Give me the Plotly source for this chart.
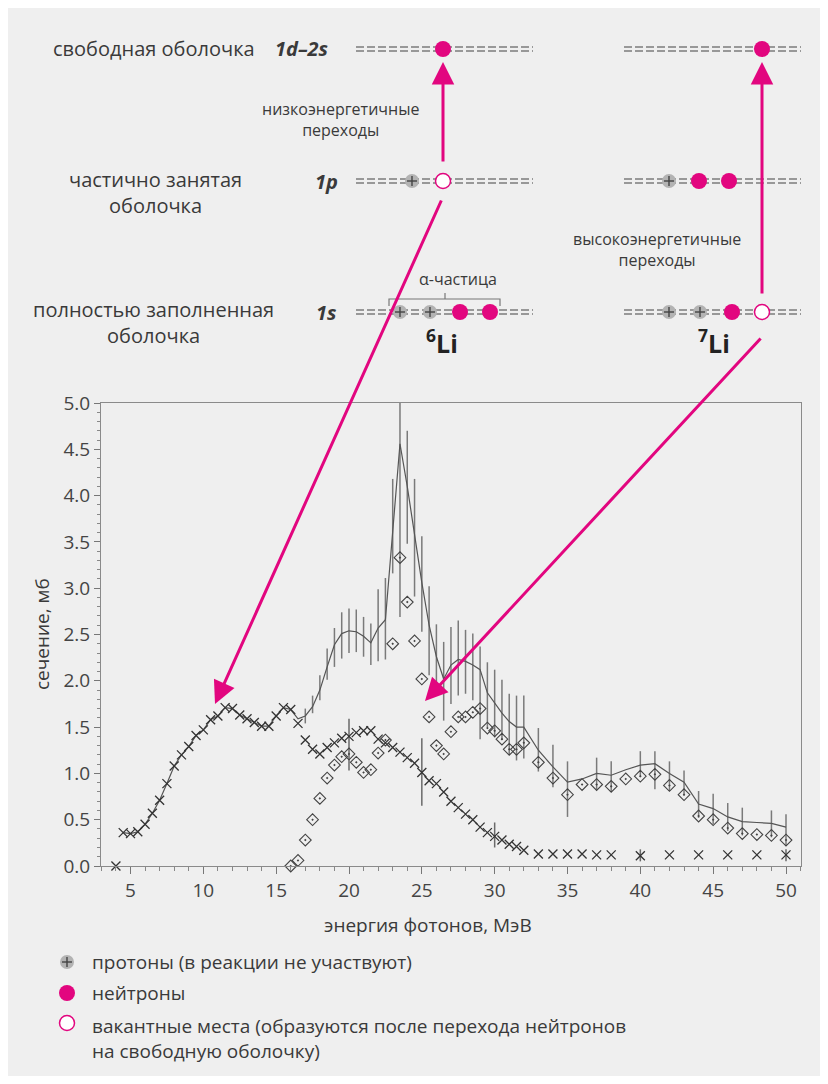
import plotly.graph_objects as go

# ---------------- data ----------------
# crosses joined by the thin line (low-energy part)
cross1_x = [4.0, 4.5, 5.0, 5.5, 6.0, 6.5, 7.0, 7.5, 8.0, 8.5, 9.0, 9.5, 10.0, 10.5,
            11.0, 11.5, 12.0, 12.5, 13.0, 13.5, 14.0, 14.5, 15.0, 15.5, 16.0]
cross1_y = [0.0, 0.36, 0.35, 0.37, 0.45, 0.57, 0.71, 0.89, 1.08, 1.20, 1.29, 1.41, 1.47, 1.58,
            1.62, 1.71, 1.70, 1.63, 1.59, 1.55, 1.51, 1.51, 1.62, 1.71, 1.69]

# thin continuous curve
curve_x = [4.5, 5.0, 5.5, 6.0, 6.5, 7.0, 7.5, 8.0, 8.5, 9.0, 9.5, 10.0, 10.5, 11.0, 11.5, 12.0,
           12.5, 13.0, 13.5, 14.0, 14.5, 15.0, 15.5, 16.0, 16.5, 17.0, 17.5, 18.0, 18.5, 19.0,
           19.5, 20.0, 20.5, 21.0, 21.5, 22.0, 22.5, 23.0, 23.5, 24.0, 24.5, 25.0, 25.5, 26.0,
           26.5, 27.0, 27.5, 28.0, 28.5, 29.0, 29.5, 30.0, 30.5, 31.0, 31.5, 32.0,
           33, 34, 35, 36, 37, 38, 39, 40, 41, 42, 43, 44, 45, 46, 47, 48, 49, 50]
curve_y = [0.36, 0.35, 0.37, 0.45, 0.57, 0.71, 0.89, 1.08, 1.20, 1.29, 1.41, 1.47, 1.58, 1.62,
           1.71, 1.70, 1.63, 1.59, 1.55, 1.51, 1.51, 1.62, 1.71, 1.69, 1.59, 1.62, 1.72, 1.90,
           2.15, 2.39, 2.51, 2.54, 2.53, 2.48, 2.41, 2.57, 2.66, 3.62, 4.56, 4.10, 3.56, 3.06,
           2.60, 2.26, 2.02, 2.17, 2.23, 2.21, 2.17, 2.12, 1.87, 1.76, 1.65, 1.56, 1.50, 1.50,
           1.25, 1.07, 0.905, 0.94, 1.00, 0.98, 1.04, 1.09, 1.105, 1.00, 0.905, 0.67, 0.62,
           0.53, 0.48, 0.47, 0.46, 0.42]

# error bars of the curve (lower / upper ends)
bar_x = [17.0, 17.5, 18.0, 18.5, 19.0, 19.5, 20.0, 20.5, 21.0, 21.5, 22.0, 22.5, 23.0, 23.5,
         24.0, 24.5, 25.0, 25.5, 26.0, 26.5, 27.0, 27.5, 28.0, 28.5, 29.0, 29.5, 30.0, 30.5,
         31.0, 31.5, 32.0, 33, 34, 35, 37, 38, 40, 41, 42, 43, 44, 45, 46, 47, 49, 50]
bar_lo = [1.54, 1.65, 1.79, 2.01, 2.15, 2.24, 2.30, 2.31, 2.26, 2.17, 2.21, 2.23, 3.16, 2.69,
          3.48, 2.91, 2.53, 2.06, 1.89, 1.57, 1.75, 1.84, 1.86, 1.79, 1.37, 1.50, 1.39, 1.36,
          1.21, 1.14, 1.16, 1.02, 0.85, 0.53, 0.83, 0.81, 0.96, 0.83, 0.81, 0.76, 0.52, 0.45,
          0.38, 0.33, 0.31, 0.22]
bar_hi = [1.70, 1.84, 2.06, 2.35, 2.57, 2.74, 2.78, 2.77, 2.69, 2.62, 2.99, 3.11, 4.18, 6.40,
          4.70, 4.18, 3.56, 3.02, 2.61, 2.42, 2.58, 2.65, 2.55, 2.51, 2.37, 2.20, 2.12, 2.01,
          1.86, 1.84, 1.84, 1.49, 1.31, 1.13, 1.17, 1.13, 1.24, 1.24, 1.13, 1.03, 0.81, 0.78,
          0.68, 0.63, 0.60, 0.56]

# second crosses series
cross2_x = [16.5, 17.0, 17.5, 18.0, 18.5, 19.0, 19.5, 20.0, 20.5, 21.0, 21.5, 22.0, 22.5, 23.0,
            23.5, 24.0, 24.5, 25.0, 25.5, 26.0, 26.5, 27.0, 27.5, 28.0, 28.5, 29.0, 29.5, 30.0,
            30.5, 31.0, 31.5, 32.0, 33, 34, 35, 36, 37, 38, 40, 42, 44, 46, 48, 50]
cross2_y = [1.54, 1.36, 1.26, 1.21, 1.28, 1.33, 1.38, 1.40, 1.44, 1.46, 1.46, 1.37, 1.33, 1.28,
            1.23, 1.17, 1.11, 1.01, 0.92, 0.89, 0.80, 0.70, 0.63, 0.56, 0.50, 0.42, 0.36, 0.32,
            0.28, 0.235, 0.21, 0.17, 0.13, 0.13, 0.13, 0.13, 0.12, 0.12, 0.11, 0.12, 0.12, 0.12,
            0.12, 0.12]
cross2_bar_x = [20, 25, 30, 40, 50]
cross2_bar_lo = [1.03, 0.65, 0.20, 0.05, 0.05]
cross2_bar_hi = [1.59, 1.38, 0.47, 0.18, 0.18]

# diamonds
diamond_x = [16.0, 16.5, 17.0, 17.5, 18.0, 18.5, 19.0, 19.5, 20.0, 20.5, 21.0, 21.5, 22.0, 22.5,
             23.0, 23.5, 24.0, 24.5, 25.0, 25.5, 26.0, 26.5, 27.0, 27.5, 28.0, 28.5, 29.0, 29.5,
             30.0, 30.5, 31.0, 31.5, 32.0, 33, 34, 35, 36, 37, 38, 39, 40, 41, 42, 43, 44, 45,
             46, 47, 48, 49, 50]
diamond_y = [0.0, 0.06, 0.28, 0.50, 0.73, 0.95, 1.09, 1.18, 1.21, 1.12, 1.01, 1.04, 1.22, 1.36,
             2.40, 3.33, 2.85, 2.43, 2.02, 1.61, 1.30, 1.21, 1.45, 1.61, 1.61, 1.66, 1.70, 1.49,
             1.46, 1.37, 1.26, 1.26, 1.33, 1.12, 0.95, 0.77, 0.88, 0.88, 0.86, 0.94, 0.97, 0.99,
             0.87, 0.77, 0.54, 0.50, 0.41, 0.35, 0.34, 0.33, 0.28]

x_tickvals = [5, 10, 15, 20, 25, 30, 35, 40, 45, 50]
y_tickvals = [0.0, 0.5, 1.0, 1.5, 2.0, 2.5, 3.0, 3.5, 4.0, 4.5, 5.0]

# ---------------- style / layout ----------------
# page offset of the figure (default body margin) — diagram positions are page pixels
OFF = 8
W, H = 812, 1068
ML, MR, MT, MB = 93, 19, 395, 210
PW, PH = W - ML - MR, H - MT - MB
FONT = "Open Sans"
TXT = "#3a3a3a"
MAG = "#e2067f"
BG = "#efefef"


def fx(p):
    return (p - OFF - ML) / PW


def fy(p):
    return (H - MB - (p - OFF)) / PH


fig = go.Figure()

# error bars of the curve
fig.add_trace(go.Scatter(
    x=bar_x, y=[(a + b) / 2 for a, b in zip(bar_lo, bar_hi)], mode="markers",
    marker=dict(size=1, color="rgba(0,0,0,0)"),
    error_y=dict(type="data", array=[(b - a) / 2 for a, b in zip(bar_lo, bar_hi)],
                 visible=True, thickness=1.5, width=0, color="#7a7a7a"),
    hoverinfo="skip", showlegend=False))
# error bars of crosses
fig.add_trace(go.Scatter(
    x=cross2_bar_x, y=[(a + b) / 2 for a, b in zip(cross2_bar_lo, cross2_bar_hi)], mode="markers",
    marker=dict(size=1, color="rgba(0,0,0,0)"),
    error_y=dict(type="data", array=[(b - a) / 2 for a, b in zip(cross2_bar_lo, cross2_bar_hi)],
                 visible=True, thickness=1.5, width=0, color="#6a6a6a"),
    hoverinfo="skip", showlegend=False))
# curve
fig.add_trace(go.Scatter(x=curve_x, y=curve_y, mode="lines",
                         line=dict(color="#555555", width=1.2), showlegend=False))
# crosses
for xs, ys in ((cross1_x, cross1_y), (cross2_x, cross2_y)):
    fig.add_trace(go.Scatter(x=xs, y=ys, mode="markers", cliponaxis=False,
                             marker=dict(symbol="x-thin", size=9, color="#333333",
                                         line=dict(width=1.3, color="#333333")),
                             showlegend=False))
# diamonds
fig.add_trace(go.Scatter(x=diamond_x, y=diamond_y, mode="markers", cliponaxis=False,
                         marker=dict(symbol="diamond-open-dot", size=9, color="#444444",
                                     line=dict(width=1.1, color="#444444")),
                         showlegend=False))

# ---------------- diagram (page-pixel positions) ----------------
shapes = []
annotations = []


def seg(x0, y0, x1, y1, color, w, dash=None):
    ln = dict(color=color, width=w)
    if dash:
        ln["dash"] = dash
    shapes.append(dict(type="line", xref="paper", yref="paper", x0=fx(x0), y0=fy(y0),
                       x1=fx(x1), y1=fy(y1), line=ln, layer="above"))


def circ(cx, cy, r, fill, lc=None, lw=0):
    shapes.append(dict(type="circle", xref="paper", yref="paper",
                       x0=fx(cx - r), x1=fx(cx + r), y0=fy(cy + r), y1=fy(cy - r),
                       fillcolor=fill, line=dict(color=lc or fill, width=lw), layer="above"))


def level(x0, x1, y):
    seg(x0, y - 2, x1, y - 2, "#7c7c7c", 1.6, "8px,3px")
    seg(x0, y + 2, x1, y + 2, "#7c7c7c", 1.6, "8px,3px")


def proton(cx, cy):
    circ(cx, cy, 7, "#b3b3b3")
    seg(cx - 5, cy, cx + 5, cy, "#444444", 1.4)
    seg(cx, cy - 5, cx, cy + 5, "#444444", 1.4)


def neutron(cx, cy):
    circ(cx, cy, 8, MAG)


def vacancy(cx, cy):
    circ(cx, cy, 7.5, "white", MAG, 1.5)


def label(text, x, y, size=20, xanchor="center", color=TXT, angle=0):
    annotations.append(dict(text=text, x=fx(x), y=fy(y), xref="paper", yref="paper",
                            xanchor=xanchor, yanchor="middle", showarrow=False,
                            textangle=angle, align="center",
                            font=dict(family=FONT, size=size, color=color)))


def arrow(x0, y0, x1, y1):
    annotations.append(dict(text="", x=fx(x1), y=fy(y1), xref="paper", yref="paper",
                            ax=x0 - x1, ay=y0 - y1, axref="pixel", ayref="pixel",
                            showarrow=True, arrowhead=2, arrowsize=1.5, arrowwidth=3,
                            arrowcolor=MAG, standoff=0, startstandoff=0))


# levels
for (a, b) in ((356, 533), (624, 801)):
    for yy in (49, 181, 312):
        level(a, b, yy)

# 6Li
neutron(443, 49)
proton(412, 181)
vacancy(443, 181)
proton(400, 312)
proton(430, 312)
neutron(460, 312)
neutron(490, 312)
# 7Li
neutron(762, 49)
proton(669, 181)
neutron(699, 181)
neutron(729, 181)
proton(669, 312)
proton(700, 312)
neutron(732, 312)
vacancy(762, 312)

# alpha bracket
shapes.append(dict(type="path", xref="paper", yref="paper", layer="above",
                   path=f"M {fx(389)},{fy(306)} L {fx(389)},{fy(299)} L {fx(500)},{fy(299)} "
                        f"L {fx(500)},{fy(306)} M {fx(445)},{fy(299)} L {fx(445)},{fy(293)}",
                   line=dict(color="#777777", width=1.2)))

# texts
label("свободная оболочка", 257, 48, xanchor="right")
label("<b><i>1d–2s</i></b>", 302, 48)
label("низкоэнергетичные<br>переходы", 340, 119, size=16)
label("частично занятая<br>оболочка", 155, 192)
label("<b><i>1p</i></b>", 326, 182)
label("высокоэнергетичные<br>переходы", 657, 249, size=16)
label("α-частица", 458, 279, size=16)
label("полностью заполненная<br>оболочка", 153, 322)
label("<b><i>1s</i></b>", 326, 312)
label("<b><sup>6</sup>Li</b>", 442, 341, size=25, color="#222222")
label("<b><sup>7</sup>Li</b>", 714, 341, size=25, color="#222222")

# arrows
arrow(443, 163, 443, 62)
arrow(762, 295, 762, 62)
arrow(442, 199, 215, 704)
arrow(762, 337, 425, 701)

# axis titles
label("энергия фотонов, МэВ", 428, 925, size=19)
label("сечение, мб", 42, 634, size=19, angle=-90)

# legend
proton(67, 962)
neutron(67, 993)
vacancy(67, 1023)
label("протоны (в реакции не участвуют)", 90, 962, size=19, xanchor="left")
label("нейтроны", 90, 993, size=19, xanchor="left")
annotations.append(dict(text="вакантные места (образуются после перехода нейтронов<br>"
                             "на свободную оболочку)",
                        x=fx(90), y=fy(1011), xref="paper", yref="paper",
                        xanchor="left", yanchor="top", align="left", showarrow=False,
                        font=dict(family=FONT, size=19, color=TXT)))

fig.update_layout(
    width=W, height=H,
    margin=dict(l=ML, r=MR, t=MT, b=MB, pad=0),
    paper_bgcolor=BG, plot_bgcolor=BG,
    font=dict(family=FONT, color=TXT),
    showlegend=False,
    shapes=shapes,
    annotations=annotations,
    xaxis=dict(range=[2.975, 51.03], tickvals=x_tickvals, ticks="outside", ticklen=7,
               tickwidth=1, tickcolor="#777777", showline=True, linecolor="#8a8a8a",
               linewidth=1.2, mirror=True, showgrid=False, zeroline=False,
               tickfont=dict(family=FONT, size=19, color="#444444"),
               minor=dict(dtick=1, ticks="outside", ticklen=4, tickcolor="#888888",
                          showgrid=False)),
    yaxis=dict(range=[0, 5], tickvals=y_tickvals, tickformat=".1f", ticks="outside",
               ticklen=6, tickwidth=1, tickcolor="#777777", showline=True,
               linecolor="#8a8a8a", linewidth=1.2, mirror=True, showgrid=False,
               zeroline=False, tickfont=dict(family=FONT, size=19, color="#444444"),
               minor=dict(dtick=0.1, ticks="outside", ticklen=3, tickcolor="#888888",
                          showgrid=False)),
)

fig.write_html("out.html")
